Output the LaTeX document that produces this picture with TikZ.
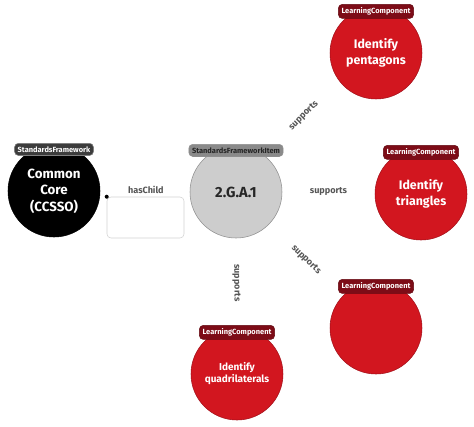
\documentclass[tikz,border=0pt]{standalone}
\usepackage{fontspec}
\setmainfont{Fira Sans}
\usepackage{tikz}
\usetikzlibrary{positioning}

\definecolor{lcred}{HTML}{D2161F}
\definecolor{lcedge}{HTML}{A3101A}
\definecolor{lctagred}{HTML}{7D0C17}
\definecolor{sfigray}{HTML}{CDCDCD}
\definecolor{sfiedge}{HTML}{8F8F8F}
\definecolor{sfitaggray}{HTML}{8A8A8A}
\definecolor{sftaggray}{HTML}{3C3C3C}
\definecolor{labelgray}{HTML}{555555}

\tikzset{
  ball/.style = {circle, minimum size=69pt, inner sep=0pt, align=center,
                 font=\bfseries\fontsize{10}{12.5}\selectfont},
  lc/.style   = {ball, fill=lcred, draw=lcedge, text=white,
                 font=\bfseries\fontsize{9.3}{12.5}\selectfont},
  sf/.style   = {ball, fill=black, draw=black, text=white},
  sfi/.style  = {ball, fill=sfigray, draw=sfiedge, text=black!85,
                 font=\bfseries\fontsize{11}{13}\selectfont},
  tag/.style  = {rounded corners=3pt, inner xsep=2.4pt, inner ysep=2.4pt,
                 font=\bfseries\fontsize{5.6}{6}\selectfont},
  lctag/.style  = {tag, fill=lctagred, draw=lctagred!80!black, text=white},
  sftag/.style  = {tag, fill=sftaggray, draw=gray, text=white},
  sfitag/.style = {tag, fill=sfitaggray, draw=sfiedge, text=black!85},
  rel/.style  = {sloped, inner sep=1pt, text=labelgray,
                 font=\bfseries\fontsize{6.8}{7}\selectfont}
}

\begin{document}
\begin{tikzpicture}[x=0.75pt, y=-0.75pt]
  \useasboundingbox (0,0) rectangle (474,426);

  \node [sf] (cc) at (54, 191) {Common\\Core\\(CCSSO)};
  \node [sfi] (item) at (236, 192) {2.G.A.1};
  \node [lc] (pent) at (376, 53) {Identify\\pentagons};
  \node [lc] (tri) at (421, 194) {Identify\\triangles};
  \node [lc] (blank) at (376, 328) {};
  \node [lc, font=\bfseries\fontsize{7.5}{9}\selectfont] (quad) at (237, 374) {Identify\\quadrilaterals};

  \node [sftag] (cc-tag) at ([yshift=-3.5pt]cc.north) {StandardsFramework};
  \node [sfitag] (item-tag) at ([yshift=-3.5pt]item.north) {StandardsFrameworkItem};
  \node [lctag] (pent-tag) at ([yshift=-3.5pt]pent.north) {LearningComponent};
  \node [lctag] (tri-tag) at ([yshift=-3.5pt]tri.north) {LearningComponent};
  \node [lctag] (blank-tag) at ([yshift=-3.5pt]blank.north) {LearningComponent};
  \node [lctag] (quad-tag) at ([yshift=-3.5pt]quad.north) {LearningComponent};

  \node [draw=black!18, rounded corners=3pt, minimum width=57.75pt,
         minimum height=30.75pt] (box) at (145.5, 217.5) {};
  \fill (box.north west) circle (1.5pt);

  \path (cc) -- node [rel, pos=0.51, yshift=1pt] {hasChild} (item);
  \path (item) -- node [rel, pos=0.53, above=0.5pt] {supports} (pent);
  \path (item) -- node [rel, yshift=1pt] {supports} (tri);
  \path (item) -- node [rel] {supports} (blank);
  \path (item) -- node [rel] {supports} (quad);
\end{tikzpicture}
\end{document}
